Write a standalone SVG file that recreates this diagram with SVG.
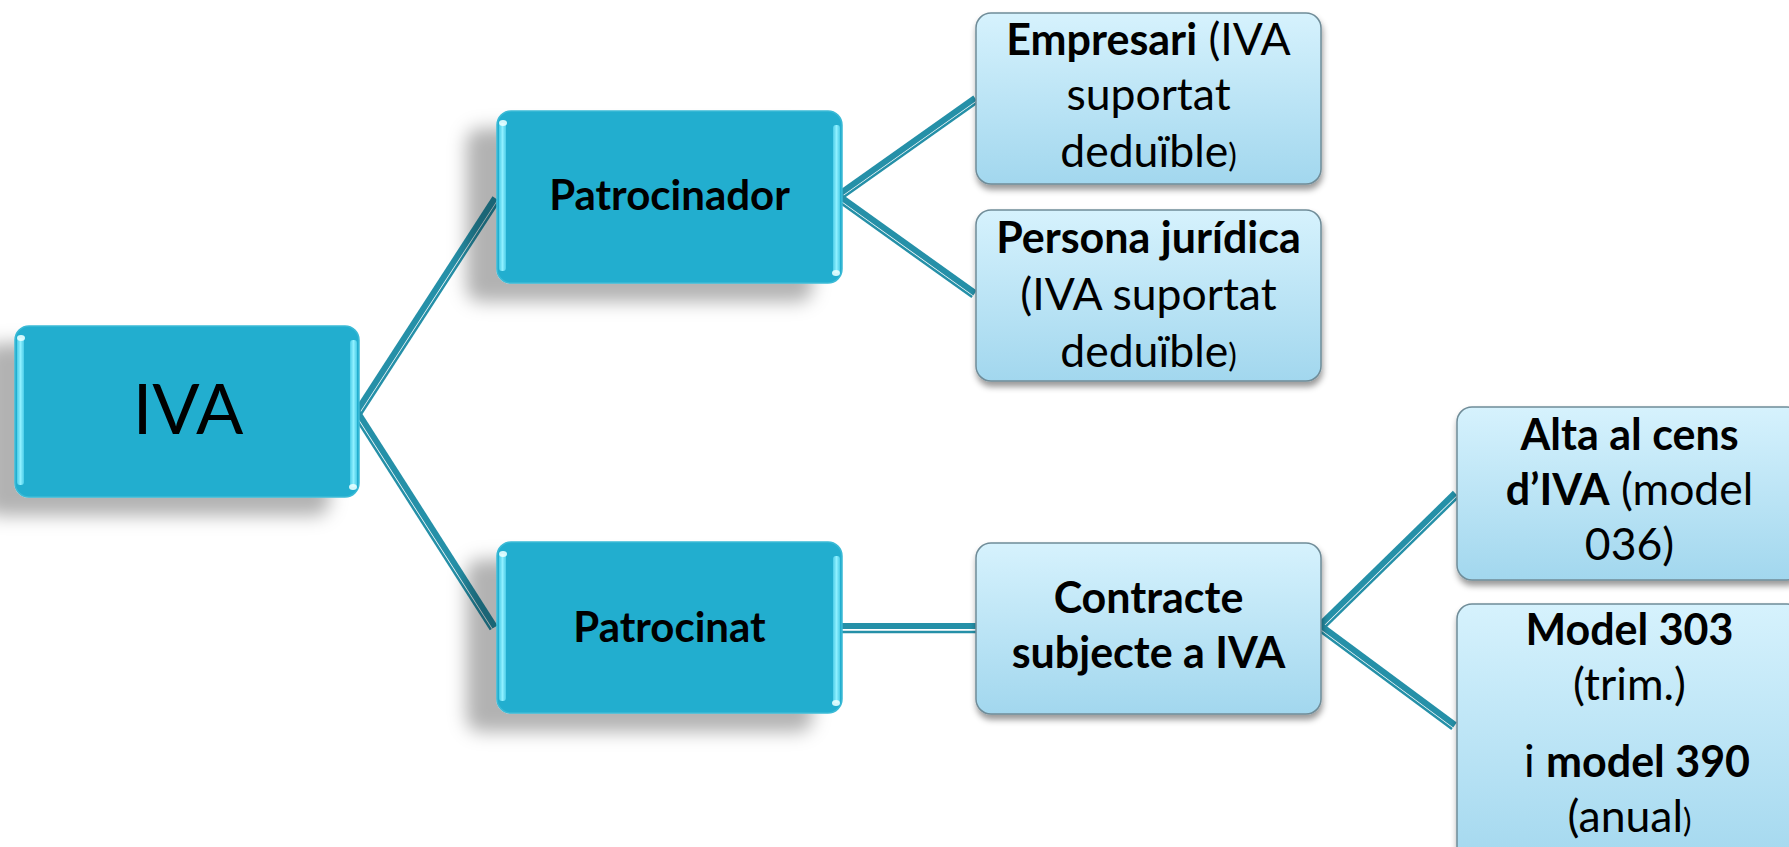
<svg xmlns="http://www.w3.org/2000/svg" width="1789" height="847" viewBox="0 0 1789 847">
<defs>
<linearGradient id="lightFill" x1="0" y1="0" x2="0" y2="1">
<stop offset="0" stop-color="#D6F2FD"/>
<stop offset="1" stop-color="#A2D7EE"/>
</linearGradient>
<linearGradient id="edgeHi" x1="0" y1="0" x2="1" y2="0">
<stop offset="0" stop-color="#4CCDE8"/>
<stop offset="0.5" stop-color="#8FF0FF"/>
<stop offset="1" stop-color="#4CCDE8"/>
</linearGradient>
<filter id="bigShadow" x="-30%" y="-30%" width="160%" height="180%">
<feDropShadow dx="-30" dy="18" stdDeviation="9" flood-color="#000" flood-opacity="0.3"/>
</filter>
<filter id="smallShadow" x="-10%" y="-10%" width="120%" height="130%">
<feDropShadow dx="1" dy="5" stdDeviation="3" flood-color="#000" flood-opacity="0.4"/>
</filter>
</defs>
<style>
.dark{fill:#21AECF;stroke:#3BBAD6;stroke-width:1.5}
.light{fill:url(#lightFill);stroke:#6F8C98;stroke-width:1.5}
.hi{fill:url(#edgeHi)}
.dot{fill:#E8FFFF;opacity:0.9}
.t{font-family:Lato,"Open Sans","DejaVu Sans",sans-serif;fill:#000;text-anchor:middle}
.big{font-size:70px}
.dk{font-size:42px;font-weight:bold}
.lt{font-size:44.5px}
.b{font-weight:bold;font-size:43px}
.sm{font-size:32px}
.thick{stroke:#2590A8;stroke-width:6;fill:none;stroke-linecap:butt}
.thin{stroke:#2590A8;stroke-width:2.5;fill:none}
</style>
<rect width="1789" height="847" fill="#FFFFFF"/>
<g id="connectors">
<line class="thick" x1="357" y1="411" x2="495" y2="198"/>
<line class="thin" x1="361.2" y1="413.7" x2="499.2" y2="200.7"/>
<line class="thick" x1="357" y1="411" x2="495" y2="627"/>
<line class="thin" x1="352.8" y1="413.7" x2="490.8" y2="629.7"/>
<line class="thick" x1="838" y1="195" x2="975" y2="98"/>
<line class="thin" x1="840.9" y1="199.1" x2="977.9" y2="102.1"/>
<line class="thick" x1="838" y1="195" x2="975" y2="293"/>
<line class="thin" x1="835.1" y1="199.1" x2="972.1" y2="297.1"/>
<line class="thick" x1="842" y1="626" x2="976" y2="626"/>
<line class="thin" x1="842" y1="632" x2="976" y2="632"/>
<line class="thick" x1="1320" y1="625" x2="1455" y2="493"/>
<line class="thin" x1="1323.5" y1="628.6" x2="1458.5" y2="496.6"/>
<line class="thick" x1="1320" y1="625" x2="1455" y2="725"/>
<line class="thin" x1="1317" y1="629" x2="1452" y2="729"/>
</g>
<g id="node-iva">
<rect class="dark" x="15" y="326" width="344" height="171" rx="14" filter="url(#bigShadow)"/>
<rect class="hi" x="17" y="338" width="7" height="147" rx="3"/>
<rect class="hi" x="350" y="340" width="7" height="147" rx="3"/>
<ellipse class="dot" cx="21" cy="338" rx="4" ry="3"/>
<ellipse class="dot" cx="353" cy="487" rx="4" ry="3"/>
<text class="t big" x="188" y="434">IVA</text>
</g>
<g id="node-patrocinador">
<rect class="dark" x="497" y="111" width="345" height="172" rx="14" filter="url(#bigShadow)"/>
<rect class="hi" x="499" y="123" width="7" height="148" rx="3"/>
<rect class="hi" x="833" y="125" width="7" height="148" rx="3"/>
<ellipse class="dot" cx="503" cy="123" rx="4" ry="3"/>
<ellipse class="dot" cx="836" cy="273" rx="4" ry="3"/>
<text class="t dk" x="669.5" y="210">Patrocinador</text>
</g>
<g id="node-patrocinat">
<rect class="dark" x="497" y="542" width="345" height="171" rx="14" filter="url(#bigShadow)"/>
<rect class="hi" x="499" y="554" width="7" height="147" rx="3"/>
<rect class="hi" x="833" y="556" width="7" height="147" rx="3"/>
<ellipse class="dot" cx="503" cy="554" rx="4" ry="3"/>
<ellipse class="dot" cx="836" cy="703" rx="4" ry="3"/>
<text class="t dk" x="669.5" y="642">Patrocinat</text>
</g>
<g id="node-empresari">
<rect class="light" x="976" y="13" width="345" height="171" rx="15" filter="url(#smallShadow)"/>
<text class="t lt" x="1148.5" y="55"><tspan class="b">Empresari</tspan> (IVA</text>
<text class="t lt" x="1148.5" y="110">suportat</text>
<text class="t lt" x="1148.5" y="167">deduïble<tspan class="sm">)</tspan></text>
</g>
<g id="node-persona">
<rect class="light" x="976" y="210" width="345" height="171" rx="15" filter="url(#smallShadow)"/>
<text class="t lt" x="1148.5" y="253"><tspan class="b">Persona jurídica</tspan></text>
<text class="t lt" x="1148.5" y="310">(IVA suportat</text>
<text class="t lt" x="1148.5" y="367">deduïble<tspan class="sm">)</tspan></text>
</g>
<g id="node-contracte">
<rect class="light" x="976" y="543" width="345" height="171" rx="15" filter="url(#smallShadow)"/>
<text class="t lt" x="1148.5" y="613"><tspan class="b">Contracte</tspan></text>
<text class="t lt" x="1148.5" y="668"><tspan class="b">subjecte a IVA</tspan></text>
</g>
<g id="node-alta">
<rect class="light" x="1457" y="407" width="345" height="173" rx="15" filter="url(#smallShadow)"/>
<text class="t lt" x="1629.5" y="450"><tspan class="b">Alta al cens</tspan></text>
<text class="t lt" x="1629.5" y="505"><tspan class="b">d’IVA</tspan> (model</text>
<text class="t lt" x="1629.5" y="560">036)</text>
</g>
<g id="node-model">
<rect class="light" x="1457" y="604" width="345" height="270" rx="15" filter="url(#smallShadow)"/>
<text class="t lt" x="1629.5" y="645"><tspan class="b">Model 303</tspan></text>
<text class="t lt" x="1629.5" y="700">(trim.)</text>
<text class="t lt" x="1637" y="777">i <tspan class="b">model 390</tspan></text>
<text class="t lt" x="1629.5" y="832">(anual<tspan class="sm">)</tspan></text>
</g>
</svg>
